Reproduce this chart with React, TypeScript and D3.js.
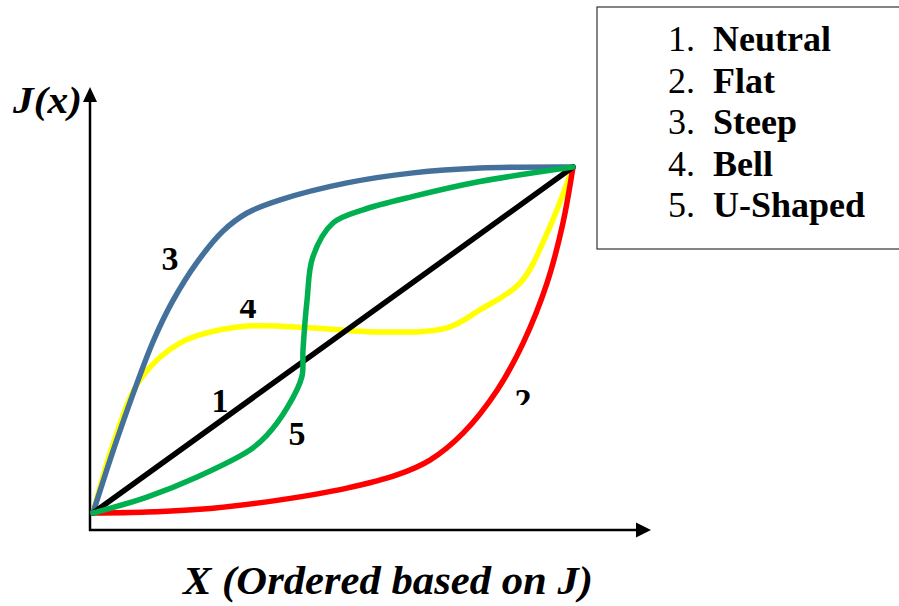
import React from "react";
import * as d3 from "d3";

// Normalized curve data (x: position ordered by J, 0..100; y: J(x), 0..100)
const neutralX = [0, 100];
const neutralY = [0, 100];

const flatX = [0, 11.25, 25, 39, 52.9, 63.3, 70.2, 77.1, 84.2, 89.6, 94.6, 97.9, 100];
const flatY = [0, 0.3, 1.4, 3.8, 7.2, 11, 15.3, 23.1, 35.5, 49.1, 66.5, 83.8, 100];

const steepX = [0, 4.2, 8.5, 12.5, 16.5, 21.7, 27.1, 32.1, 39, 52.9, 66.7, 80.6, 100];
const steepY = [0, 18, 35, 49.5, 61, 72.5, 81.5, 86.7, 90.5, 95.4, 98.3, 99.7, 100];

const bellX = [0, 4.2, 9.8, 18.1, 30.6, 45.8, 59.8, 73.75, 80.6, 89, 94.6, 100];
const bellY = [0, 20, 38.5, 49.1, 53.8, 53.5, 52.3, 53.5, 58.7, 66.5, 80.9, 100];

const uX = [0, 11.25, 21.7, 32.7, 36.25, 40.4, 43.5, 43.75, 44.6, 45.8, 50, 56.25, 66.7, 80.6, 100];
const uY = [0, 4.6, 10.4, 18.2, 22.5, 30.3, 39.3, 47.1, 61.6, 74, 83.8, 87.6, 91.5, 95.8, 100];

const legendNumbers = ["1.", "2.", "3.", "4.", "5."];
const legendNames = ["Neutral", "Flat", "Steep", "Bell", "U-Shaped"];

const xLabel = "X (Ordered based on J)";
const yLabel = "J(x)";

const FONT = '"Liberation Serif", "Times New Roman", Times, "DejaVu Serif", serif';

export default function App() {
  const W = 899;
  const H = 606;
  const x = d3.scaleLinear().domain([0, 100]).range([93, 573]);
  const y = d3.scaleLinear().domain([0, 100]).range([513, 167]);

  const zip = (xs: number[], ys: number[]) => xs.map((v, i) => [v, ys[i]] as [number, number]);
  const lineGen = d3
    .line<[number, number]>()
    .x((d) => x(d[0]))
    .y((d) => y(d[1]))
    .curve(d3.curveCatmullRom.alpha(0.5));

  const series = [
    { key: "bell", xs: bellX, ys: bellY, color: "#ffff00" },
    { key: "flat", xs: flatX, ys: flatY, color: "#ff0000" },
    { key: "steep", xs: steepX, ys: steepY, color: "#44719c" },
    { key: "neutral", xs: neutralX, ys: neutralY, color: "#000000" },
    { key: "ushaped", xs: uX, ys: uY, color: "#00b050" },
  ];

  const axisX = 90;
  const axisY = 530;
  const serif = { fontFamily: FONT };

  return (
    <svg
      width={W}
      height={H}
      style={{ position: "absolute", left: 0, top: 0, background: "#fff" }}
    >
      <defs>
        <clipPath id="clip4">
          <rect x={220} y={300} width={60} height={40} />
        </clipPath>
        <clipPath id="clip2">
          <rect x={500} y={370} width={60} height={35} />
        </clipPath>
      </defs>
      <rect x={0} y={0} width={W} height={H} fill="#fff" />

      {/* axes */}
      <line x1={axisX} y1={axisY + 1} x2={axisX} y2={100} stroke="#000" strokeWidth={2.5} />
      <path d={`M${axisX - 7},${102} L${axisX},${87} L${axisX + 7},${102} Z`} fill="#000" />
      <line x1={axisX - 1} y1={axisY} x2={637} y2={axisY} stroke="#000" strokeWidth={2.5} />
      <path d={`M${636},${axisY - 7.5} L${651},${axisY} L${636},${axisY + 7.5} Z`} fill="#000" />

      {/* curves */}
      {series.map((s) => (
        <path
          key={s.key}
          d={lineGen(zip(s.xs, s.ys)) || ""}
          fill="none"
          stroke={s.color}
          strokeWidth={5.5}
          strokeLinecap="round"
          strokeLinejoin="round"
        />
      ))}

      {/* curve labels */}
      <g style={serif} fontWeight="bold" fontSize={34} fill="#000">
        <text x={170} y={270} textAnchor="middle">3</text>
        <text x={248} y={318} textAnchor="middle" clipPath="url(#clip4)">4</text>
        <text x={220} y={412} textAnchor="middle">1</text>
        <text x={297} y={445} textAnchor="middle">5</text>
        <text x={523} y={412} textAnchor="middle" clipPath="url(#clip2)">2</text>
      </g>

      {/* axis labels */}
      <text
        x={13}
        y={113}
        style={serif}
        fontWeight="bold"
        fontStyle="italic"
        fontSize={38}
        fill="#000"
        textLength={69}
        lengthAdjust="spacingAndGlyphs"
      >
        {yLabel}
      </text>
      <text
        x={183}
        y={594}
        style={serif}
        fontWeight="bold"
        fontStyle="italic"
        fontSize={40}
        fill="#000"
        textLength={410}
        lengthAdjust="spacingAndGlyphs"
      >
        {xLabel}
      </text>

      {/* legend */}
      <rect x={597} y={7} width={320} height={242} fill="#fff" stroke="#333" strokeWidth={1.2} />
      <g style={serif} fontSize={36} fill="#000">
        {legendNames.map((name, i) => (
          <g key={name}>
            <text x={668} y={51 + i * 41.6}>{legendNumbers[i]}</text>
            <text x={713} y={51 + i * 41.6} fontWeight="bold">{name}</text>
          </g>
        ))}
      </g>
    </svg>
  );
}
